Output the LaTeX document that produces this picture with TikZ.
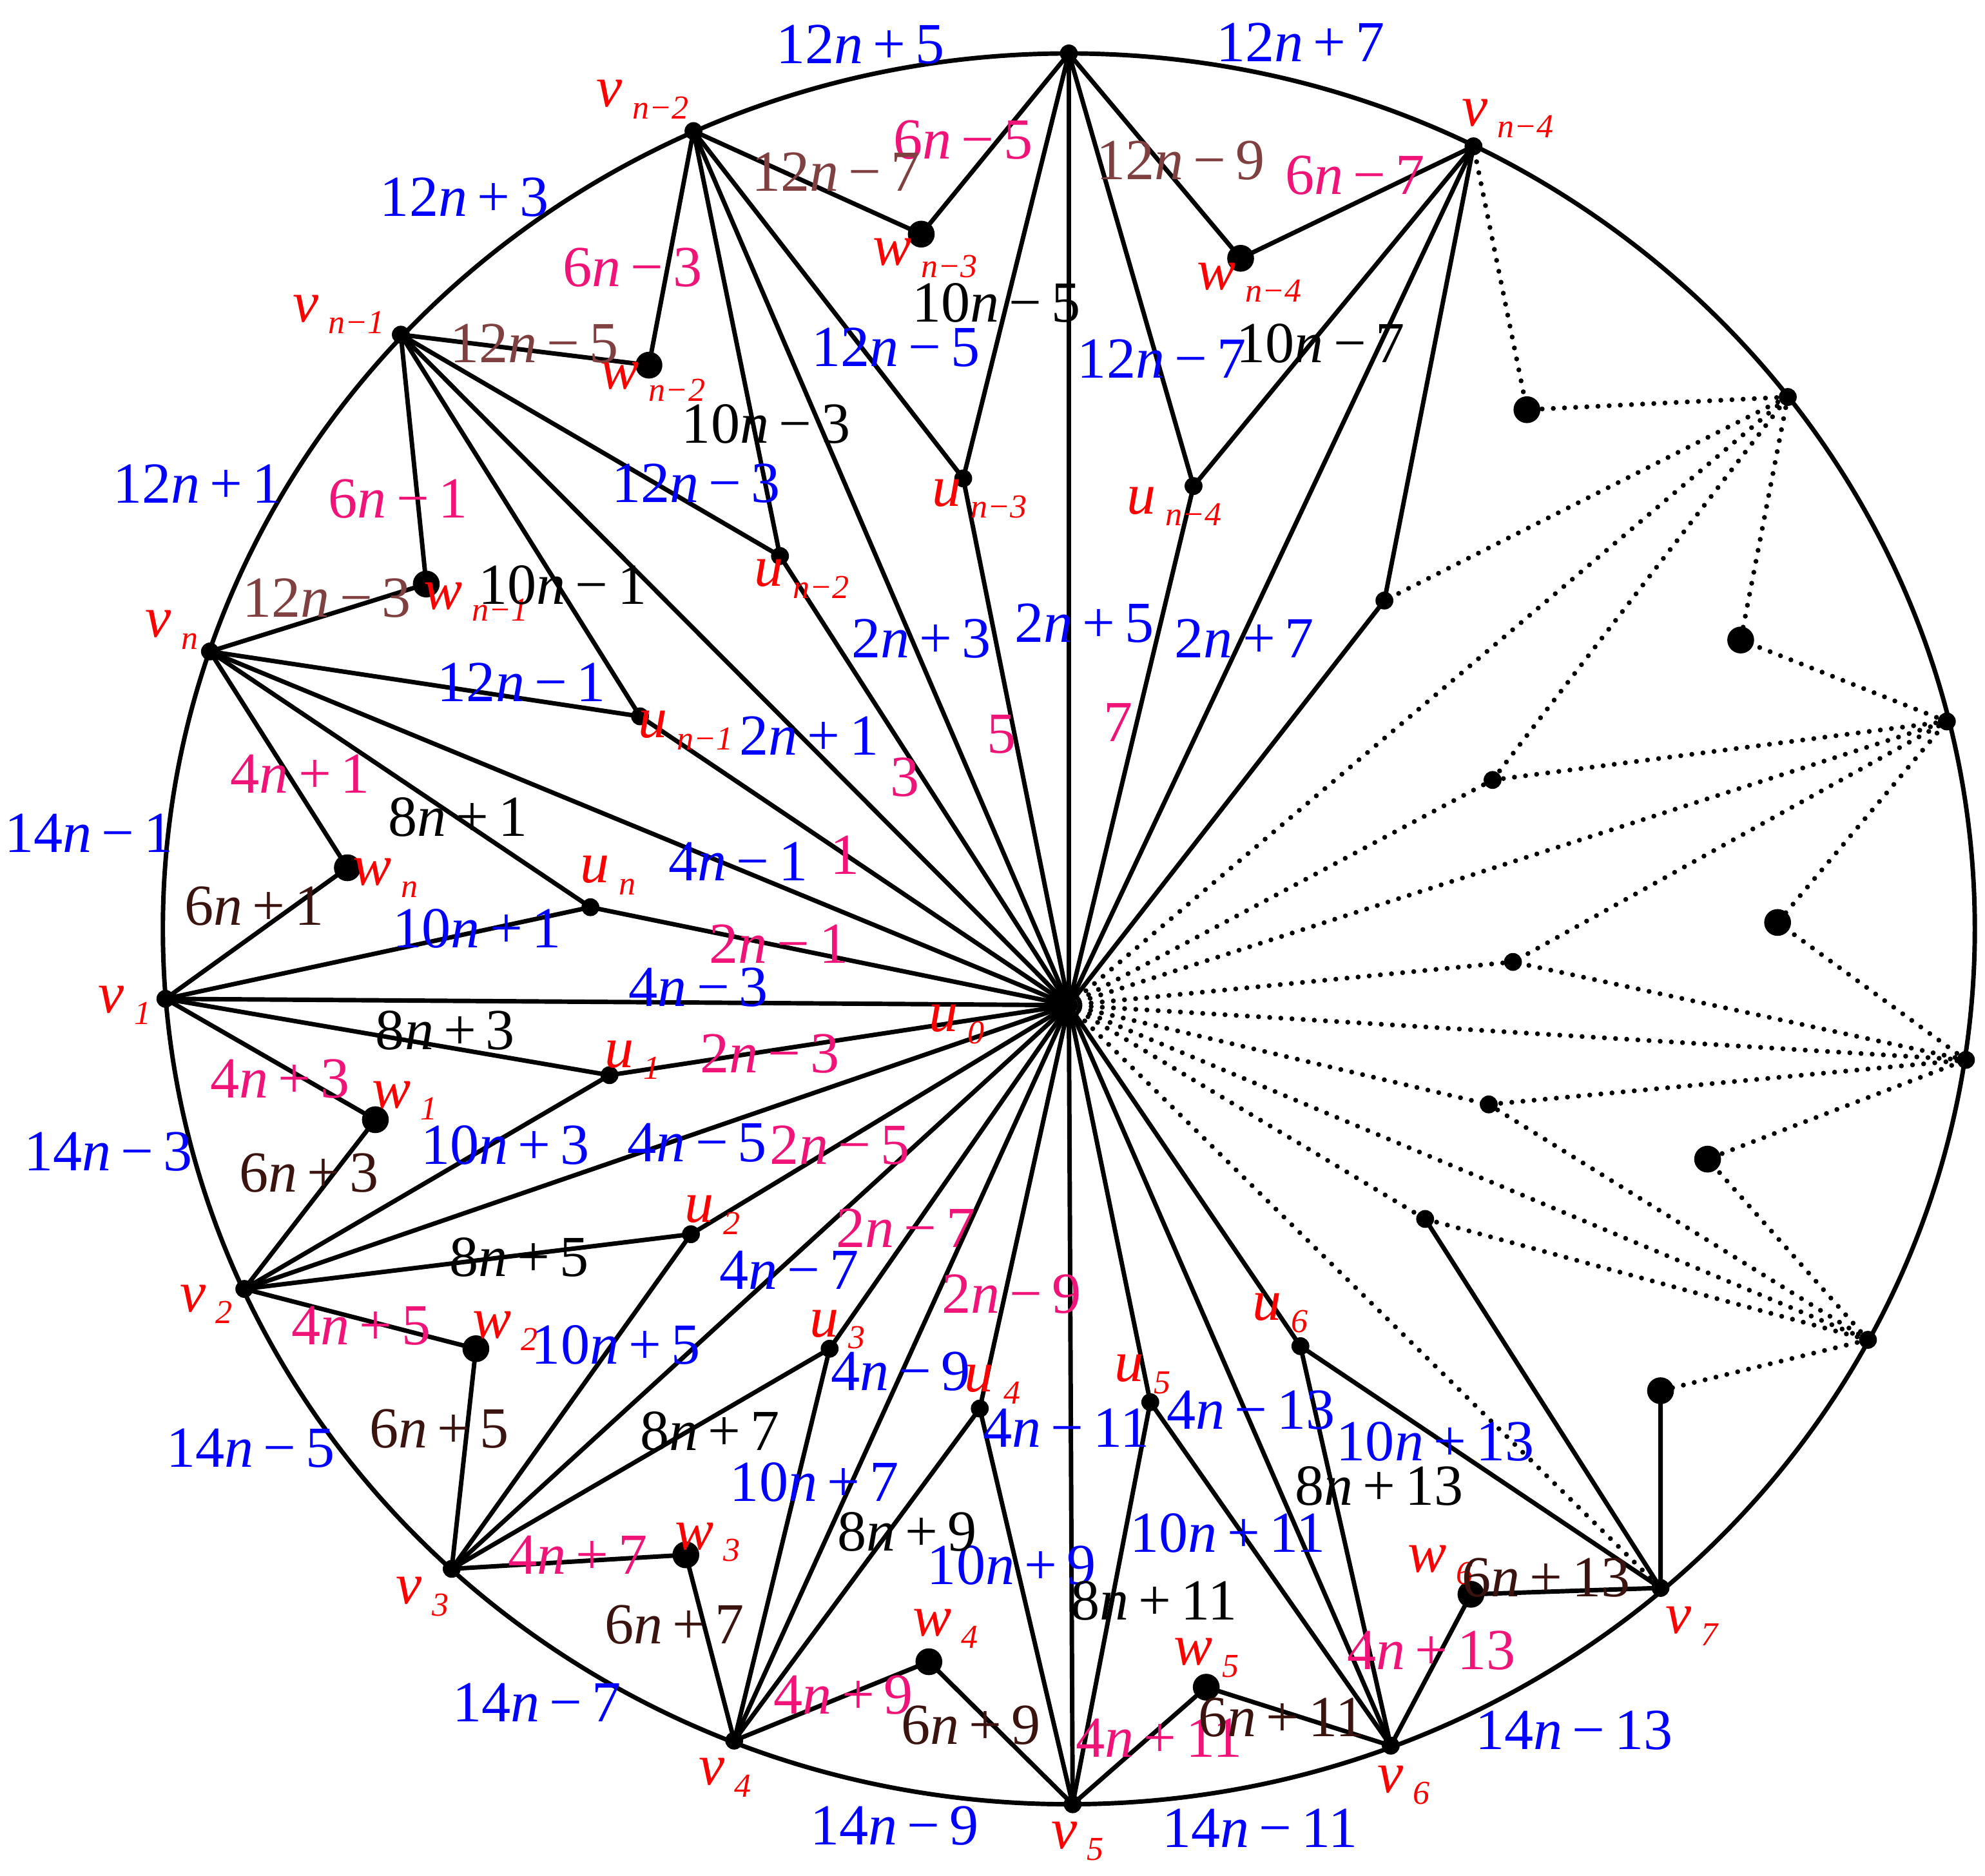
\documentclass[tikz,border=0pt]{standalone}
\usepackage{fontspec}
\setmainfont{Liberation Serif}
\definecolor{cb}{RGB}{0,0,255}
\definecolor{cp}{RGB}{240,20,120}
\definecolor{cbr}{RGB}{128,64,64}
\definecolor{cdb}{RGB}{60,20,15}
\definecolor{cr}{RGB}{255,0,0}
\newcommand\nn{\textit{n}}
\newcommand\ex[2]{#1\nn\,#2}
\newcommand\vl[2]{\textit{#1}\,\raisebox{-0.45ex}{\fontsize{15}{15}\selectfont\textit{#2}}}
\begin{document}
\begin{tikzpicture}[x=0.02cm,y=-0.02cm,
  edge/.style={line width=2pt},
  dots/.style={line width=2.2pt,dash pattern=on 0pt off 5pt,line cap=round},
  lab/.style={font=\fontsize{26}{28}\selectfont,inner sep=0pt},
  vlab/.style={font=\fontsize{26}{28}\selectfont,text=cr,inner sep=0pt},
  bigdot/.style={circle,fill=black,inner sep=0pt,minimum size=12pt},
  smdot/.style={circle,fill=black,inner sep=0pt,minimum size=8pt}]
\useasboundingbox (0,0) rectangle (1560,1474);
\fill[white] (0,0) rectangle (1560,1474);
% points
\coordinate (u0) at (840,790);
\coordinate (v1) at (130,785); \coordinate (v2) at (192,1013); \coordinate (v3) at (355,1233);
\coordinate (v4) at (577,1368); \coordinate (v5) at (843,1418); \coordinate (v6) at (1093,1372);
\coordinate (v7) at (1305,1248); \coordinate (D) at (1468,1053); \coordinate (C) at (1545,833);
\coordinate (B) at (1530,567); \coordinate (A) at (1405,312); \coordinate (vnd) at (1158,115);
\coordinate (vnc) at (840,42); \coordinate (vnb) at (545,103); \coordinate (vna) at (315,263);
\coordinate (vn) at (165,512);
\coordinate (un) at (464,713); \coordinate (u1) at (479,845); \coordinate (u2) at (543,970);
\coordinate (u3) at (652,1060); \coordinate (u4) at (770,1107); \coordinate (u5) at (904,1102);
\coordinate (u6) at (1022,1058); \coordinate (U5) at (1120,958); \coordinate (U4) at (1170,868);
\coordinate (U3) at (1189,756); \coordinate (U2) at (1173,613); \coordinate (U1) at (1088,472);
\coordinate (und) at (938,382); \coordinate (unc) at (757,376); \coordinate (unb) at (613,437);
\coordinate (una) at (503,563);
\coordinate (wn) at (273,682); \coordinate (w1) at (295,880); \coordinate (w2) at (374,1060);
\coordinate (w3) at (539,1222); \coordinate (w4) at (730,1306); \coordinate (w5) at (948,1326);
\coordinate (w6) at (1156,1253); \coordinate (W5) at (1305,1093); \coordinate (W4) at (1342,911);
\coordinate (W3) at (1397,725); \coordinate (W2) at (1368,503); \coordinate (W1) at (1200,322);
\coordinate (wnd) at (975,203); \coordinate (wnc) at (724,184); \coordinate (wnb) at (510,287);
\coordinate (wna) at (335,459);
% circle
\draw[edge] (840,730) ellipse [x radius=712, y radius=688];
% solid edges
\foreach \a/\w/\u/\b in {vn/wn/un/v1, v1/w1/u1/v2, v2/w2/u2/v3, v3/w3/u3/v4, v4/w4/u4/v5,
  v5/w5/u5/v6, v6/w6/u6/v7, vnd/wnd/und/vnc, vnc/wnc/unc/vnb, vnb/wnb/unb/vna, vna/wna/una/vn}
  \draw[edge] (\a) -- (\w) -- (\b) (\a) -- (\u) -- (\b);
\foreach \p in {v1,v2,v3,v4,v5,v6,vnd,vnc,vnb,vna,vn,un,u1,u2,u3,u4,u5,u6,U1,und,unc,unb,una}
  \draw[edge] (u0) -- (\p);
\draw[edge] (v7) -- (W5) (v7) -- (U5) (vnd) -- (U1);
% dotted edges
\foreach \a/\w/\u/\b in {D/W4/U4/C, C/W3/U3/B, B/W2/U2/A}
  \draw[dots] (\a) -- (\w) -- (\b) (\a) -- (\u) -- (\b);
\draw[dots] (D) -- (W5) (D) -- (U5) (A) -- (W1) -- (vnd) (A) -- (U1);
\foreach \p in {v7,D,C,B,A,U2,U3,U4,U5} \draw[dots] (u0) -- (\p);
% dots
\foreach \p in {wn,w1,w2,w3,w4,w5,w6,W5,W4,W3,W2,W1,wnd,wnc,wnb,wna} \node[bigdot] at (\p) {};
\foreach \p in {v1,v2,v3,v4,v5,v6,v7,D,C,B,A,vnd,vnc,vnb,vna,vn,un,u1,u2,u3,u4,u5,u6,U1,U2,U3,U4,U5,und,unc,unb,una,u0}
  \node[smdot] at (\p) {};
% vertex labels
\foreach \t/\s/\x/\y in {v/n−2/505/78, v/n−4/1185/93, v/n−1/266/247, v/n/135/495, v/1/98/790,
  v/2/162/1025, v/3/332/1255, v/4/570/1397, v/5/847/1447, v/6/1103/1403, v/7/1330/1278,
  w/n−3/727/203, w/n−4/982/222, w/n−2/513/300, w/n−1/374/473, w/n/303/690, w/1/318/865,
  w/2/397/1046, w/3/556/1212, w/4/743/1280, w/5/948/1303, w/6/1132/1230,
  u/n−3/770/392, u/n−4/923/398, u/n−2/630/455, u/n−1/539/574, u/n/478/688, u/0/752/805,
  u/1/497/833, u/2/560/955, u/3/658/1045, u/4/780/1088, u/5/898/1080, u/6/1006/1032}
  \node[vlab] at (\x,\y) {\vl{\t}{\s}};
% blue labels
\foreach \a/\b/\x/\y in {12/+\,5/676/35, 12/+\,7/1022/33, 12/+\,3/365/155, 12/+\,1/155/380,
  14/−\,1/70/655, 14/−\,3/85/905, 14/−\,5/197/1138, 14/−\,7/422/1338, 14/−\,9/703/1435,
  14/−\,11/990/1437, 14/−\,13/1237/1360,
  12/−\,5/704/273, 12/−\,7/913/282, 12/−\,3/547/380, 12/−\,1/410/536, 10/+\,1/375/730,
  10/+\,3/397/900, 10/+\,5/484/1057, 10/+\,7/640/1165, 10/+\,9/795/1230, 10/+\,11/965/1205,
  10/+\,13/1128/1133, 2/+\,1/636/578, 2/+\,3/724/502, 2/+\,5/852/490, 2/+\,7/978/502,
  4/−\,1/580/677, 4/−\,3/549/776, 4/−\,5/548/898, 4/−\,7/620/998, 4/−\,9/708/1078,
  4/−\,11/838/1122, 4/−\,13/983/1108}
  \node[lab,text=cb] at (\x,\y) {\ex{\a}{\b}};
% pink labels
\foreach \a/\b/\x/\y in {6/−\,5/757/110, 6/−\,7/1065/138, 6/−\,3/497/210, 6/−\,1/313/392,
  4/+\,1/236/608, 4/+\,3/220/848, 4/+\,5/284/1042, 4/+\,7/454/1222, 4/+\,9/663/1332,
  4/+\,11/911/1366, 4/+\,13/1125/1297, 2/−\,1/612/742, 2/−\,3/605/828, 2/−\,5/660/900,
  2/−\,7/712/965, 2/−\,9/795/1017}
  \node[lab,text=cp] at (\x,\y) {\ex{\a}{\b}};
\foreach \t/\x/\y in {1/664/672, 3/711/611, 5/787/577, 7/879/568}
  \node[lab,text=cp] at (\x,\y) {\t};
% brown labels
\foreach \a/\b/\x/\y in {12/−\,7/657/135, 12/−\,9/928/126, 12/−\,5/420/270, 12/−\,3/257/470}
  \node[lab,text=cbr] at (\x,\y) {\ex{\a}{\b}};
% black labels
\foreach \a/\b/\x/\y in {10/−\,5/783/238, 10/−\,7/1038/270, 10/−\,3/602/333, 10/−\,1/442/460,
  8/+\,1/360/642, 8/+\,3/350/810, 8/+\,5/408/988, 8/+\,7/558/1125, 8/+\,9/713/1204,
  8/+\,11/907/1258, 8/+\,13/1084/1168}
  \node[lab,text=black] at (\x,\y) {\ex{\a}{\b}};
% dark brown labels
\foreach \a/\b/\x/\y in {6/+\,1/200/712, 6/+\,3/243/922, 6/+\,5/345/1123, 6/+\,7/530/1277,
  6/+\,9/763/1356, 6/+\,11/1007/1350, 6/+\,13/1215/1240}
  \node[lab,text=cdb] at (\x,\y) {\ex{\a}{\b}};
\end{tikzpicture}
\end{document}
